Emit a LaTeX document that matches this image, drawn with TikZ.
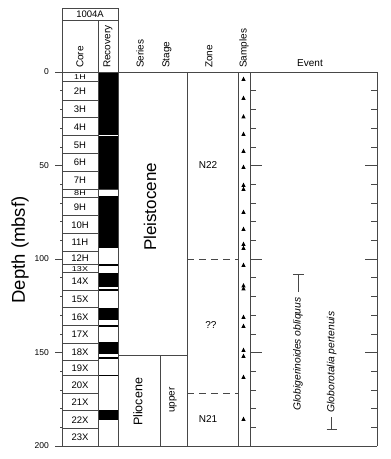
\documentclass[tikz,border=0pt]{standalone}
\usepackage{fontspec}
\setmainfont{Liberation Sans}
\begin{document}
\begin{tikzpicture}[x=1pt,y=-1pt,
  frame/.style={draw=black!72, line width=0.6pt},
  hdr/.style={font=\fontsize{10}{12}\selectfont, rotate=90, anchor=west, inner sep=0pt},
  corelbl/.style={font=\fontsize{9.5}{10}\selectfont, inner sep=0pt},
  smalllbl/.style={font=\fontsize{9}{9}\selectfont, inner sep=0pt, yscale=0.78},
  deplbl/.style={font=\fontsize{8.5}{10}\selectfont, inner sep=0pt, anchor=east},
  zonelbl/.style={font=\fontsize{10}{12}\selectfont, inner sep=0pt},
  evlbl/.style={font=\fontsize{10.3}{12}\selectfont\itshape, rotate=90, inner sep=0pt},
  rec/.style={fill=black},
  zoneline/.style={draw=black!72, line width=0.6pt, dash pattern=on 7pt off 5pt}]
\useasboundingbox (0,0) rectangle (391,459);

% header box 1004A
\draw[frame] (62,8) rectangle (118,20);
\node[font=\fontsize{9.5}{11}\selectfont, inner sep=0pt] (site) at (90,14.5) {1004A};

% column headers
\node[hdr] (hcore) at (80,68) {Core};
\node[hdr] (hrec) at (108,68) {Recovery};
\node[hdr] (hser) at (140,68) {Series};
\node[hdr] (hsta) at (167,68) {Stage};
\node[hdr] (hzon) at (209,68) {Zone};
\node[hdr] (hsam) at (244,68) {Samples};
\node[font=\fontsize{10}{12}\selectfont, inner sep=0pt] (hev) at (310,63) {Event};

% recovery bars
\foreach \a/\b in {72/135.4, 136.1/188.8, 195.8/247.7, 263.8/265.6, 272.8/286.7, 288.8/290.7,
  308/320, 325.3/327.2, 342.2/353.8, 357.4/359.2, 374.6/376, 409.8/420}
  \fill[rec] (98,\a) rectangle (118,\b);
\draw[frame] (98,189.6) -- (118,189.6);

% core cells
\foreach \a/\b/\t in {81.7/100/2H, 100/117.7/3H, 117.7/135.7/4H, 135.7/153.3/5H,
  153.3/171/6H, 171/189/7H, 197.3/215.7/9H, 215.7/233.3/10H, 233.3/251/11H,
  251/264.3/12H, 272.3/290/14X, 290/307.7/15X, 307.7/325/16X, 325/343.3/17X,
  343.3/360/18X, 360/375.7/19X, 375.7/393.3/20X, 393.3/410.5/21X, 410.5/428.3/22X,
  428.3/446/23X}
  \node[corelbl] at (80,{(\a+\b)/2+0.5}) {\t};
\foreach \a/\b/\t in {72/81.7/1H, 189/197.3/8H, 264.3/272.3/13X}
  \node[smalllbl] at (80,{(\a+\b)/2+0.4}) {\t};
\foreach \y in {81.7,100,117.7,135.7,153.3,171,189,197.3,215.7,233.3,251,264.3,272.3,
  290,307.7,325,343.3,360,375.7,393.3,410.5,428.3}
  \draw[frame] (62,\y) -- (98,\y);

% frame lines
\draw[frame] (62,20) -- (118,20);
\draw[frame] (62,8) -- (62,446);
\draw[frame] (98,20) -- (98,446);
\draw[frame] (118,8) -- (118,446);
\draw[frame] (55,72) -- (377,72);
\draw[frame] (55,446) -- (377,446);
\draw[frame] (187,72) -- (187,446);
\draw[frame] (238,72) -- (238,446);
\draw[frame] (250,72) -- (250,446);
\draw[frame] (377,72) -- (377,446);
\draw[frame] (118,355) -- (187,355);
\draw[frame] (160.7,355) -- (160.7,446);

% depth axis
\foreach \d in {10,20,30,40,60,70,80,90,110,120,130,140,160,170,180,190}
  \draw[frame] (60,{72+1.87*\d}) -- (62,{72+1.87*\d});
\foreach \d in {50,100,150}
  \draw[frame] (55,{72+1.87*\d}) -- (62,{72+1.87*\d});
\foreach \d in {0,50,100,150,200}
  \node[deplbl] at (49,{72+1.87*\d}) {\d};
\node[font=\fontsize{18.5}{20}\selectfont, rotate=90, inner sep=0pt] (dlab) at (20,250) {Depth (mbsf)};

% series / stage
\node[font=\fontsize{17}{20}\selectfont, rotate=90, inner sep=0pt] (pleis) at (150,207) {Pleistocene};
\node[font=\fontsize{12.5}{14}\selectfont, rotate=90, inner sep=0pt] (plio) at (138,402) {Pliocene};
\node[font=\fontsize{10}{12}\selectfont, rotate=90, inner sep=0pt] (upper) at (173,400) {upper};

% zones
\draw[zoneline] (187,259) -- (238,259);
\draw[zoneline] (187,393) -- (238,393);
\node[zonelbl] (n22) at (208,165) {N22};
\node[zonelbl] (qq) at (211,325) {??};
\node[zonelbl] (n21) at (208,419) {N21};

% samples
\foreach \y in {79,98,116.5,134,151,167,185,189,212,229,244,248,265,285.5,288.5,317,326,350,356,377,419}
  \fill (243.5,\y-2.3) -- (245.6,\y+1.8) -- (241.4,\y+1.8) -- cycle;

% event column ticks
\foreach \d in {10,20,30,40,60,70,80,90,110,120,130,140,160,170,180,190} {
  \draw[frame] (250,{72+1.87*\d}) -- (256,{72+1.87*\d});
  \draw[frame] (371,{72+1.87*\d}) -- (377,{72+1.87*\d});
}
\foreach \d in {50,100,150} {
  \draw[frame] (250,{72+1.87*\d}) -- (262,{72+1.87*\d});
  \draw[frame] (365,{72+1.87*\d}) -- (377,{72+1.87*\d});
}

% events
\node[evlbl] (gobl) at (298,354) {Globigerinoides obliquus};
\coordinate (goblTop) at (298.5,274);
\draw[frame] (293,274) -- (304,274);
\draw[frame] (goblTop) -- (298.5,292);
\node[evlbl] (gper) at (331.7,362) {Globorotalia pertenuis};
\coordinate (gperBot) at (331.7,429);
\draw[frame] (331.7,417) -- (gperBot);
\draw[frame] (326.7,429) -- (336.7,429);
\end{tikzpicture}
\end{document}
